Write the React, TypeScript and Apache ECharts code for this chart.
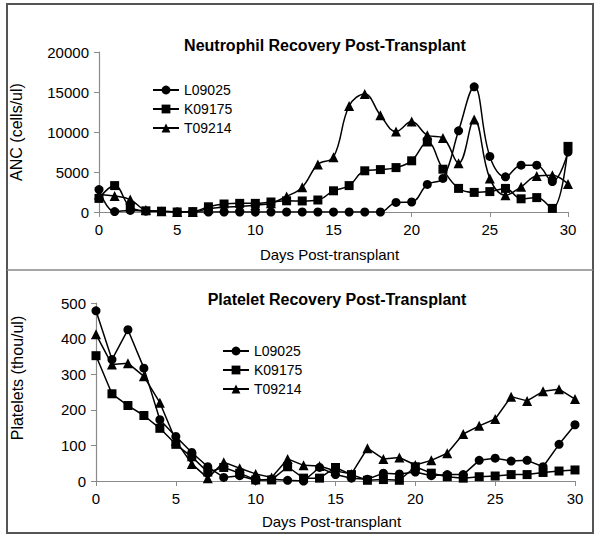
import React, { useEffect, useRef } from "react";
import * as echarts from "echarts";

const days = [0, 1, 2, 3, 4, 5, 6, 7, 8, 9, 10, 11, 12, 13, 14, 15, 16, 17, 18, 19, 20, 21, 22, 23, 24, 25, 26, 27, 28, 29, 30];
const seriesNames = ["L09025", "K09175", "T09214"];
const seriesSymbols = ["circle", "rect", "triangle"];

// Neutrophil (ANC, cells/ul)
const ancL09025 = [2800, 50, 200, 100, 50, 0, 0, 0, 0, 0, 0, 0, 0, 0, 0, 0, 0, 0, 0, 1200, 1250, 3450, 4200, 10150, 15650, 6950, 4400, 5850, 5850, 3800, 7500];
const ancK09175 = [1700, 3300, 600, 150, 100, 0, 50, 650, 1000, 1080, 1080, 1250, 1400, 1380, 1500, 2650, 3300, 5150, 5300, 5550, 6400, 8750, 5350, 2950, 2450, 2550, 2950, 1650, 1800, 450, 8200];
const ancT09214 = [2200, 2000, 1550, 250, 100, 0, 0, 400, 600, 700, 850, 1100, 1950, 3100, 5950, 6850, 13250, 14750, 12100, 10050, 11300, 9600, 9250, 6100, 11550, 4200, 2100, 3150, 4500, 4600, 3500];

// Platelets (thou/ul)
const pltL09025 = [478, 341, 425, 317, 172, 125, 80, 40, 10, 15, 2, 5, 2, 0, 38, 18, 8, 5, 22, 20, 25, 15, 18, 18, 58, 64, 56, 58, 40, 103, 158];
const pltK09175 = [352, 245, 212, 184, 148, 103, 68, 25, 38, 22, 3, 3, 40, 8, 8, 38, 18, 2, 4, 2, 40, 22, 12, 8, 12, 14, 18, 18, 24, 28, 31];
const pltT09214 = [412, 327, 331, 294, 220, 113, 48, 8, 53, 36, 20, 10, 62, 44, 42, 28, 20, 92, 62, 66, 45, 58, 78, 132, 155, 174, 237, 225, 252, 258, 230];

const topTitle = "Neutrophil Recovery Post-Transplant";
const bottomTitle = "Platelet Recovery Post-Transplant";
const topYName = "ANC (cells/ul)";
const bottomYName = "Platelets (thou/ul)";
const xName = "Days Post-transplant";

const FONT = "Liberation Sans, Arial, sans-serif";
const AXIS_GREY = "#8a8a8a";

function pairs(vals: number[]) {
  return days.map((d, i) => [d, vals[i]]);
}

function makeSeries(vals: number[], idx: number, grid: number, smooth: boolean | number) {
  return {
    type: "line",
    name: seriesNames[idx],
    xAxisIndex: grid,
    yAxisIndex: grid,
    data: pairs(vals),
    smooth,
    symbol: seriesSymbols[idx],
    symbolSize: idx === 2 ? 10 : 9,
    showAllSymbol: true,
    lineStyle: { color: "#000", width: 1.5 },
    itemStyle: { color: "#000" },
  };
}

const plain = (v: number) => String(v);

function xAxis(grid: number, gap: number) {
  return {
    type: "value",
    gridIndex: grid,
    min: 0,
    max: 30,
    interval: 5,
    name: xName,
    nameLocation: "middle",
    nameGap: gap,
    nameTextStyle: { color: "#000", fontSize: 15, fontFamily: FONT, padding: [0, 8, 0, 0] },
    axisLine: { show: true, lineStyle: { color: AXIS_GREY, width: 1.2 } },
    axisTick: { show: true, length: 5, lineStyle: { color: AXIS_GREY } },
    axisLabel: { color: "#000", fontSize: 15, fontFamily: FONT, margin: 10, formatter: plain },
    splitLine: { show: false },
  };
}

function yAxis(grid: number, max: number, interval: number, name: string, gap: number, shiftUp: number) {
  return {
    type: "value",
    gridIndex: grid,
    min: 0,
    max,
    interval,
    name,
    nameLocation: "middle",
    nameGap: gap,
    nameTextStyle: { color: "#000", fontSize: 16, fontFamily: FONT, padding: [0, 0, 0, shiftUp * 2] },
    axisLine: { show: true, lineStyle: { color: AXIS_GREY, width: 1.2 } },
    axisTick: { show: true, length: 5, lineStyle: { color: AXIS_GREY } },
    axisLabel: { color: "#000", fontSize: 15, fontFamily: FONT, margin: 10, formatter: plain },
    splitLine: { show: false },
  };
}

function legend(left: number, top: number) {
  return {
    orient: "vertical",
    left,
    top,
    itemWidth: 26,
    itemHeight: 11,
    itemGap: 5,
    data: seriesNames,
    selectedMode: false,
    textStyle: { color: "#000", fontSize: 14, fontFamily: FONT },
  };
}

export default function App() {
  const ref = useRef<HTMLDivElement>(null);
  useEffect(() => {
    document.body.style.margin = "0";
    const chart = echarts.init(ref.current!, null, { renderer: "svg" });
    chart.setOption({
      animation: false,
      backgroundColor: "#fff",
      title: [
        {
          text: topTitle,
          left: 320,
          top: 32,
          textAlign: "center",
          textStyle: { fontSize: 16, fontWeight: "bold", fontFamily: FONT, color: "#000" },
        },
        {
          text: bottomTitle,
          left: 332,
          top: 286,
          textAlign: "center",
          textStyle: { fontSize: 16, fontWeight: "bold", fontFamily: FONT, color: "#000" },
        },
      ],
      legend: [legend(147, 78), legend(217, 339)],
      grid: [
        { left: 99, top: 52, width: 469, height: 160 },
        { left: 96, top: 303, width: 479, height: 178 },
      ],
      xAxis: [xAxis(0, 35), xAxis(1, 33)],
      yAxis: [yAxis(0, 20000, 5000, topYName, 75, 0), yAxis(1, 500, 100, bottomYName, 71, 14)],
      series: [
        makeSeries(ancL09025, 0, 0, 0.4),
        makeSeries(ancK09175, 1, 0, 0.4),
        makeSeries(ancT09214, 2, 0, 0.4),
        makeSeries(pltL09025, 0, 1, false),
        makeSeries(pltK09175, 1, 1, false),
        makeSeries(pltT09214, 2, 1, false),
      ],
      graphic: [
        {
          type: "rect",
          shape: { x: 7, y: 4, width: 586, height: 529 },
          style: { fill: "none", stroke: "#555", lineWidth: 2 },
          silent: true,
        },
        {
          type: "line",
          shape: { x1: 7, y1: 270, x2: 593, y2: 270 },
          style: { stroke: "#888", lineWidth: 1.5 },
          silent: true,
        },
      ],
    });
    return () => chart.dispose();
  }, []);
  return <div ref={ref} style={{ width: 600, height: 540 }} />;
}
